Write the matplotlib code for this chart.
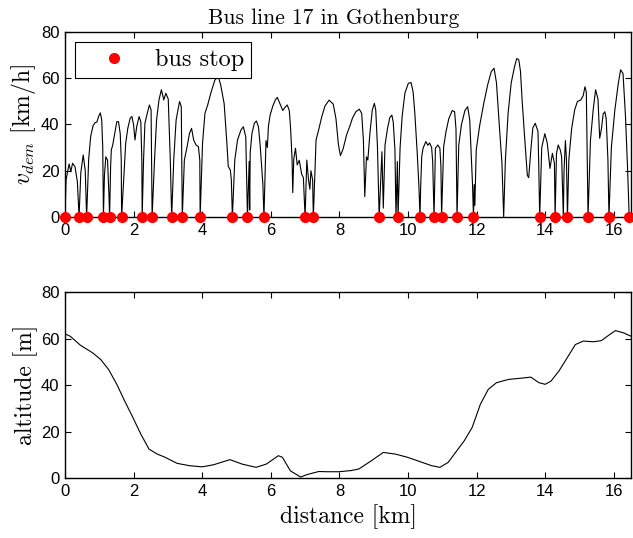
import matplotlib
matplotlib.use("Agg")
import matplotlib.pyplot as plt

# ---------- Data ----------
stop_km = [0.00, 0.41, 0.63, 1.12, 1.30, 1.65, 2.25, 2.54, 3.11, 3.42, 3.94,
           4.88, 5.32, 5.80, 7.00, 7.24, 9.16, 9.71, 10.35, 10.76, 10.98,
           11.43, 11.91, 13.84, 14.29, 14.65, 15.25, 15.86, 16.45]

speed_km = [0.00, 0.03, 0.12, 0.17, 0.22, 0.29, 0.36, 0.41, 0.46, 0.53, 0.59, 0.63,
            0.69, 0.75, 0.82, 0.88, 0.93, 0.98, 1.03, 1.07, 1.10, 1.12,
            1.15, 1.19, 1.24, 1.28, 1.30,
            1.33, 1.35, 1.39, 1.45, 1.51, 1.56, 1.61, 1.64, 1.65,
            1.72, 1.77, 1.83, 1.90, 1.95, 2.00, 2.04, 2.09, 2.16, 2.21, 2.24, 2.25,
            2.29, 2.33, 2.41, 2.46, 2.51, 2.54,
            2.61, 2.67, 2.74, 2.81, 2.88, 2.94, 3.01, 3.07, 3.11,
            3.17, 3.24, 3.34, 3.39, 3.42,
            3.48, 3.56, 3.63, 3.69, 3.75, 3.82, 3.89, 3.93, 3.94,
            4.01, 4.08, 4.16, 4.25, 4.37, 4.47, 4.54, 4.64, 4.72, 4.76, 4.82, 4.85, 4.88,
            4.95, 5.03, 5.13, 5.20, 5.27, 5.32,
            5.37, 5.385, 5.40, 5.45, 5.52, 5.58, 5.64, 5.69, 5.74, 5.77, 5.80,
            5.86, 5.90, 5.93, 5.98, 6.06, 6.13, 6.19, 6.27, 6.35, 6.42, 6.48, 6.54,
            6.58, 6.62, 6.64, 6.67, 6.72, 6.77, 6.83, 6.90, 6.95, 7.00,
            7.05, 7.10, 7.14, 7.17, 7.22, 7.24,
            7.32, 7.41, 7.48, 7.58, 7.70, 7.82, 7.90, 7.97, 8.03, 8.11, 8.21, 8.31,
            8.38, 8.48, 8.58, 8.65, 8.70, 8.74, 8.79, 8.83, 8.89, 8.96, 9.02, 9.06,
            9.11, 9.16,
            9.24, 9.28, 9.33, 9.40, 9.47, 9.53, 9.57, 9.62, 9.65, 9.69, 9.71,
            9.77, 9.83, 9.91, 10.01, 10.09, 10.15, 10.20, 10.27, 10.32, 10.35,
            10.37, 10.40, 10.44, 10.52, 10.58, 10.63, 10.69, 10.72, 10.76,
            10.80, 10.87, 10.93, 10.96, 10.98,
            11.04, 11.11, 11.19, 11.29, 11.36, 11.40, 11.43,
            11.48, 11.56, 11.66, 11.74, 11.80, 11.85, 11.88, 11.91,
            11.93, 11.95, 11.99, 12.09, 12.22, 12.33, 12.43, 12.51, 12.58, 12.67,
            12.74, 12.79,
            12.84, 12.92, 13.01, 13.10, 13.17, 13.23, 13.28, 13.33, 13.40, 13.48,
            13.52, 13.58, 13.64, 13.71, 13.79, 13.81, 13.84,
            13.90, 13.99, 14.06, 14.14, 14.21, 14.27, 14.29,
            14.33, 14.38, 14.44, 14.48, 14.53, 14.55, 14.59, 14.62, 14.65,
            14.69, 14.77, 14.86, 14.94, 15.04, 15.11, 15.16, 15.20, 15.25,
            15.32, 15.40, 15.47, 15.54, 15.59, 15.64, 15.69, 15.74, 15.78, 15.83, 15.86,
            15.93, 16.03, 16.13, 16.20, 16.27, 16.34, 16.40, 16.45]

speed_kmh = [0, 16, 22.9, 19.6, 23.2, 21.8, 15.3, 0, 19, 26.8, 20, 0,
             25, 35, 39.5, 40.8, 41, 43.5, 45, 42, 30, 0,
             18, 26, 24.6, 10, 0,
             22, 29, 31, 36.2, 41.2, 41.2, 36, 24.6, 0,
             18.9, 31.9, 38.3, 42.7, 43.4, 39.8, 33.3, 39, 43.4, 41.2, 24.6, 0,
             24.6, 40.5, 45.5, 48.4, 46.3, 0,
             24.6, 42, 50.6, 55, 50.6, 53.5, 51, 24.6, 0,
             24.6, 42, 49.9, 47.7, 0,
             24.6, 30.4, 36.2, 38.3, 33.3, 31.1, 30.4, 24.6, 0,
             31.9, 44.8, 48.4, 53.5, 59.2, 60.7, 57, 49, 31.9, 21.8, 20.3, 16, 0,
             24.6, 33.3, 37.6, 39, 34.7, 0,
             24, 3, 28, 36, 40.5, 41.5, 39, 31, 20, 14, 0,
             33, 30, 39, 44, 48, 50.5, 51.7, 48.8, 46, 47.5, 48.4, 46,
             37.6, 25, 10.5, 25, 29.7, 22.5, 24.5, 18.5, 17, 0,
             24.6, 16, 12, 20, 16, 0,
             33.3, 38.5, 43, 48, 50.5, 48.8, 42.5, 31.5, 26.5, 29.5, 35.5, 39.5,
             42.7, 45.5, 46.6, 44.8, 33.3, 8.8, 26, 24.6, 36.2, 46.3, 49.1, 46.3,
             30.4, 0,
             28.2, 3.8, 31, 38, 43, 44, 41, 29, 0, 24, 0,
             30, 43.5, 53.5, 57.8, 58.1, 54, 44.8, 27.5, 13, 0,
             13, 26, 29.7, 32.6, 31, 32, 30, 24, 0,
             29.7, 31.1, 29.7, 22, 0,
             30.4, 37, 42.5, 46, 45.5, 38, 0,
             31, 40, 46, 47.7, 42, 24.6, 14.6, 0,
             14, 5, 29, 39.5, 49.9, 57.5, 62.9, 64.3, 58, 38,
             23.2, 0,
             24.6, 45, 58, 64.5, 68.5, 68, 63, 50, 34.7, 18,
             17, 28.5, 38.5, 40.5, 37, 24.6, 0,
             30, 36, 32, 21, 27.5, 23.2, 0,
             27.5, 31.1, 29, 26, 0, 20, 33, 25, 0,
             24.6, 38, 46.3, 49.9, 50.6, 52.5, 56.3, 54, 0,
             33, 46.3, 55, 51, 34, 38, 44.5, 45.5, 42.5, 24.6, 0,
             30, 46, 57.5, 63.6, 62, 44, 22, 0]

alt_km = [0.00, 0.15, 0.45, 0.80, 1.04, 1.27, 1.51, 1.74, 1.98, 2.21, 2.45,
          2.69, 2.92, 3.27, 3.63, 4.00, 4.33, 4.81, 5.16, 5.57, 5.87, 6.22,
          6.34, 6.57, 6.87, 7.04, 7.40, 7.63, 7.99, 8.34, 8.57, 8.93, 9.28,
          9.63, 9.99, 10.34, 10.69, 10.93, 11.17, 11.64, 11.87, 12.11, 12.34,
          12.58, 12.93, 13.40, 13.58, 13.82, 14.00, 14.17, 14.40, 14.70, 14.88,
          15.11, 15.41, 15.64, 15.88, 16.05, 16.29, 16.50]
alt_m = [62, 61, 57.1, 53.9, 51, 46.7, 40.3, 33.1, 26, 18.9, 12.4,
         10.3, 8.9, 6.3, 5.3, 4.8, 5.7, 7.9, 6, 4.6, 6, 9.6,
         8.9, 3.1, 0.4, 1.4, 2.8, 2.7, 2.7, 3.2, 3.9, 7.4, 11,
         10.3, 8.9, 7.1, 5.3, 4.6, 6.7, 16, 21.7, 31.7, 38.1,
         41, 42.4, 43.1, 43.4, 41, 40.3, 41.7, 46, 53.1, 57.4,
         58.9, 58.6, 59.1, 61.7, 63.4, 62.4, 61]

# ---------- Style ----------
plt.rcParams["mathtext.fontset"] = "cm"
plt.rcParams["font.family"] = ["Liberation Sans", "DejaVu Sans"]
serif = "cmr10"


def style_axes(ax):
    ax.set_xlim(0, 16.5)
    ax.set_ylim(0, 80)
    ax.set_xticks(range(0, 17, 2))
    ax.set_yticks(range(0, 81, 20))
    ax.tick_params(direction="in", top=True, right=True, labelsize=12,
                   length=4, width=0.8, pad=4)
    for s in ax.spines.values():
        s.set_linewidth(1.0)


# ---------- Figure ----------
fig = plt.figure(figsize=(6.33, 5.38), dpi=100)
ax1 = fig.add_axes([0.1027, 0.5967, 0.894, 0.344])
ax2 = fig.add_axes([0.1027, 0.1115, 0.894, 0.3457])

# top: demanded speed
ax1.plot(speed_km, speed_kmh, color="black", linewidth=0.8)
ax1.plot(stop_km, [0] * len(stop_km), "o", color="red", markersize=7,
         label="bus stop", clip_on=False, zorder=5)
style_axes(ax1)
ax1.set_title("Bus line 17 in Gothenburg", fontfamily=serif, fontsize=15.5,
              pad=6, x=0.475)
ax1.set_ylabel(r"$v_{dem}$ [km/h]", fontfamily=serif, fontsize=17, labelpad=2)
leg = ax1.legend(loc="upper left", fancybox=False, framealpha=1,
                 edgecolor="black", prop={"family": serif, "size": 17.5},
                 handletextpad=0.4, borderaxespad=0.4, borderpad=0.3,
                 handlelength=2.6)
leg.get_frame().set_linewidth(0.8)

# bottom: altitude
ax2.plot(alt_km, alt_m, color="black", linewidth=0.8)
style_axes(ax2)
ax2.set_ylabel("altitude [m]", fontfamily=serif, fontsize=17, labelpad=2)
ax2.set_xlabel("distance [km]", fontfamily=serif, fontsize=17, labelpad=4)

fig.savefig("out.png", dpi=100)
